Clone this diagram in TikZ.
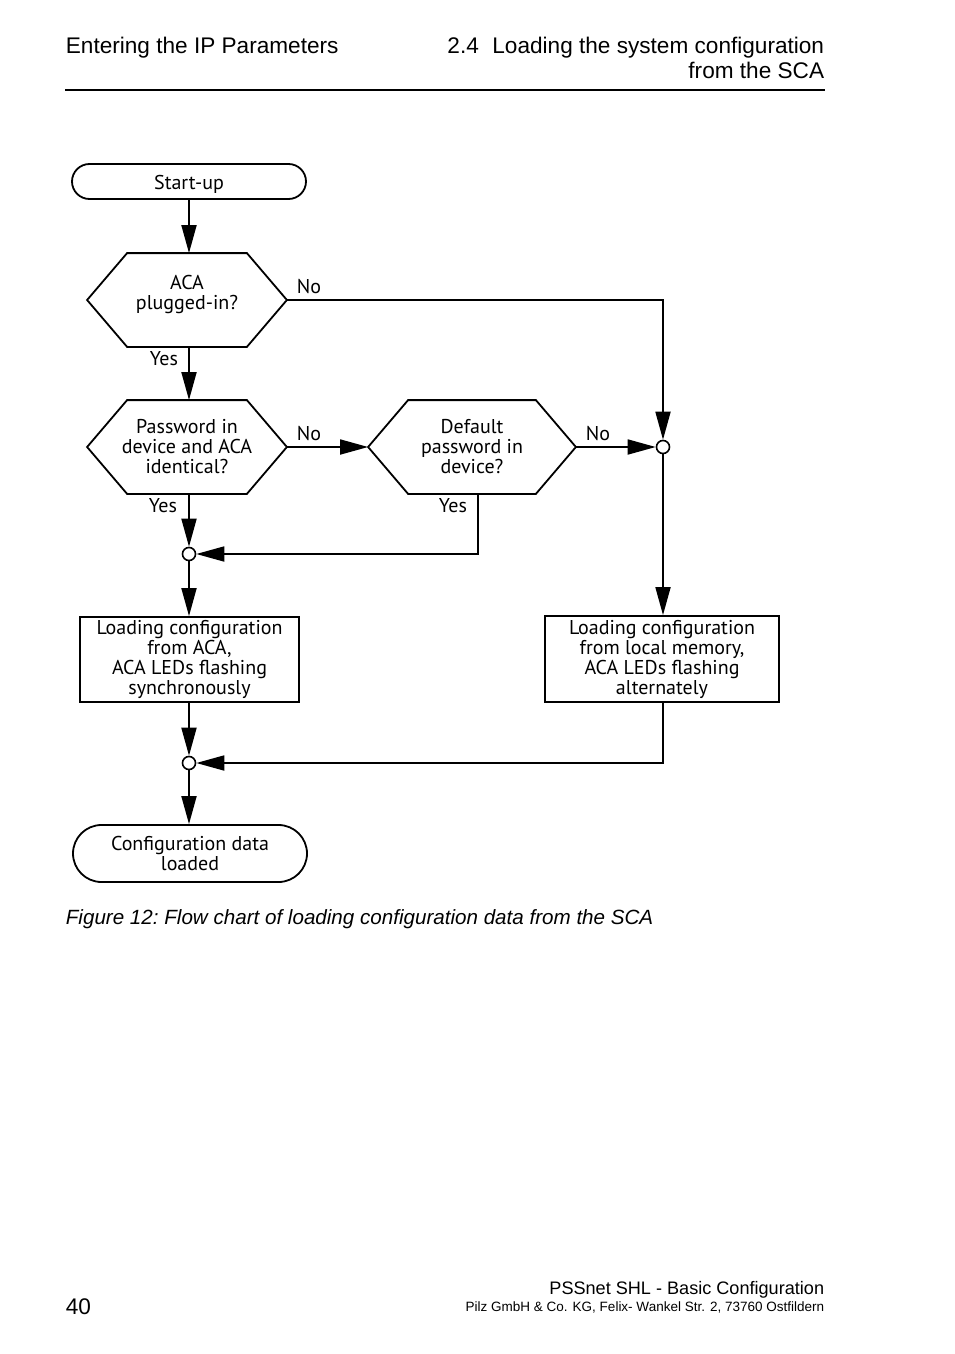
\documentclass[tikz,border=0pt]{standalone}
\usepackage{fontspec}
\setmainfont{Liberation Sans}
\newfontfamily\dfont{PT Sans}
\usetikzlibrary{arrows.meta,shapes.misc}
\begin{document}
\begin{tikzpicture}[x=0.5pt,y=-0.5pt,
  line width=0.9pt,
  arr/.style={-{Triangle[length=14pt,width=7.5pt]}},
  dtext/.style={font=\dfont\fontsize{10}{10}\selectfont, align=center},
  term/.style={rounded rectangle, draw, dtext, minimum width=117pt, inner sep=0pt},
  hexa/.style={rectangle, dtext, minimum height=46pt, inner sep=0pt},
  boxx/.style={rectangle, draw, dtext, inner sep=0pt},
  dot/.style={circle, draw, fill=white, minimum size=6.5pt, inner sep=0pt, line width=0.8pt},
  lbl/.style={font=\dfont\fontsize{10}{10}\selectfont, inner sep=0pt},
  hdr/.style={font=\fontsize{11.3}{13}\selectfont, inner sep=0pt}
]
\useasboundingbox (0,0) rectangle (954,1354);

% header and footer
\node[hdr, anchor=base west] (ht1) at (65,54) {Entering the IP Parameters};
\node[hdr, anchor=base east] (ht2) at (825,54) {2.4\hspace{0.6em}Loading the system configuration};
\node[hdr, anchor=base east] (ht3) at (825,79) {from the SCA};
\draw[line width=0.7pt] (65,90) -- (825,90);
\node[hdr, anchor=base west] (pg) at (65,1314) {40};
\node[font=\fontsize{9.05}{11}\selectfont, inner sep=0pt, anchor=base east] (ft1) at (825,1294) {PSSnet SHL - Basic Configuration};
\node[font=\fontsize{6.75}{8}\selectfont, inner sep=0pt, anchor=base east] (ft2) at (825,1311) {Pilz GmbH \& Co. KG, Felix- Wankel Str. 2, 73760 Ostfildern};
\node[font=\frenchspacing\itshape\fontsize{10.3}{12}\selectfont, inner sep=0pt, anchor=base west] (cap) at (65,924) {Figure 12: Flow chart of loading configuration data from the SCA};

% nodes
\node[term, minimum height=17.5pt, text height=10.3pt, text depth=2pt] (start) at (189,181.5) {Start-up};
\node[hexa, minimum width=99pt, label={[dtext, yshift=3pt]center:{ACA\\plugged-in?}}] (h1) at (187,300) {};
\node[hexa, minimum width=99pt] (h2) at (187,447) {Password in\\device and ACA\\identical?};
\node[hexa, minimum width=103pt] (h3) at (472,447) {Default\\password in\\device?};
\foreach \h in {h1,h2,h3}
  \draw[line join=miter] ([xshift=20pt]\h.north west) -- ([xshift=-20pt]\h.north east) -- (\h.east)
    -- ([xshift=-20pt]\h.south east) -- ([xshift=20pt]\h.south west) -- (\h.west) -- cycle;
\node[dot] (c1) at (663,447) {};
\node[dot] (c2) at (189,554) {};
\node[boxx, minimum width=109.5pt, minimum height=42.5pt] (b1) at (189.5,659.5) {Loading configuration\\from ACA,\\ACA LEDs flashing\\synchronously};
\node[boxx, minimum width=117pt, minimum height=43pt] (b2) at (662,659) {Loading configuration\\from local memory,\\ACA LEDs flashing\\alternately};
\node[dot] (c3) at (189,763) {};
\node[term, minimum height=28.5pt] (end) at (190,853.5) {Configuration data\\loaded};

% labels
\node[lbl] (l1) at (309,287) {No};
\node[lbl] (l2) at (164,359) {Yes};
\node[lbl] (l3) at (309,434) {No};
\node[lbl] (l4) at (598,434) {No};
\node[lbl] (l5) at (163,506) {Yes};
\node[lbl] (l6) at (453,506) {Yes};

% connectors
\draw[arr] (start.south) -- (start.south |- h1.north);
\draw[arr] (h1.east) -| (c1.north);
\draw[arr] (start.south |- h1.south) -- (start.south |- h2.north);
\draw[arr] (h2.east) -- (h3.west);
\draw[arr] (h3.east) -- (c1.west);
\draw[arr] (c1.south) -- (c1.south |- b2.north);
\draw[arr] (c2 |- h2.south) -- (c2.north);
\draw[arr] ([xshift=3pt]h3.south) |- (c2.east);
\draw[arr] (c2.south) -- (c2 |- b1.north);
\draw[arr] (c3 |- b1.south) -- (c3.north);
\draw[arr] (c1 |- b2.south) |- (c3.east);
\draw[arr] (c3.south) -- (c3 |- end.north);
\end{tikzpicture}
\end{document}
